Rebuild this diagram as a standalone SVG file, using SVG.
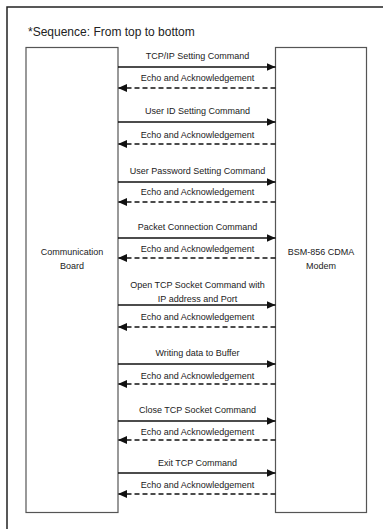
<svg xmlns="http://www.w3.org/2000/svg" width="383" height="529" viewBox="0 0 383 529">
<style>
.frame{fill:none;stroke:#222;stroke-width:1.5}
.box{fill:#fff;stroke:#555;stroke-width:1.2}
.t{font-family:"Liberation Sans",Arial,sans-serif;font-size:9px;fill:#222;text-anchor:middle}
.title{font-family:"Liberation Sans",Arial,sans-serif;font-size:12px;fill:#222}
.req{stroke:#111;stroke-width:1.3;fill:none;marker-end:url(#ah)}
.ack{stroke:#111;stroke-width:1.3;fill:none;stroke-dasharray:5 3;marker-end:url(#ah)}
</style>
<defs>
<marker id="ah" markerUnits="userSpaceOnUse" markerWidth="9" markerHeight="8" refX="9" refY="4" orient="auto">
<path d="M0,0 L9,4 L0,8 z" fill="#111"/>
</marker>
</defs>
<rect width="383" height="529" fill="#fff"/>
<rect class="frame" x="7" y="7" width="420" height="560"/>
<text class="title" x="28" y="36">*Sequence: From top to bottom</text>
<g id="communication-board">
<rect class="box" x="26" y="47.5" width="92" height="465"/>
<text class="t" x="72" y="255">Communication</text>
<text class="t" x="72" y="269">Board</text>
</g>
<g id="modem">
<rect class="box" x="275.5" y="47.5" width="91" height="465"/>
<text class="t" x="321" y="255">BSM-856 CDMA</text>
<text class="t" x="321" y="269">Modem</text>
</g>
<g id="connectors">
<line class="req" x1="118" y1="67" x2="275.5" y2="67"/>
<text class="t" x="197.5" y="59">TCP/IP Setting Command</text>
<line class="ack" x1="275.5" y1="88" x2="118" y2="88"/>
<text class="t" x="197.5" y="81">Echo and Acknowledgement</text>

<line class="req" x1="118" y1="122" x2="275.5" y2="122"/>
<text class="t" x="197.5" y="114">User ID Setting Command</text>
<line class="ack" x1="275.5" y1="144" x2="118" y2="144"/>
<text class="t" x="197.5" y="138">Echo and Acknowledgement</text>

<line class="req" x1="118" y1="182" x2="275.5" y2="182"/>
<text class="t" x="197.5" y="174">User Password Setting Command</text>
<line class="ack" x1="275.5" y1="202" x2="118" y2="202"/>
<text class="t" x="197.5" y="195">Echo and Acknowledgement</text>

<line class="req" x1="118" y1="238" x2="275.5" y2="238"/>
<text class="t" x="197.5" y="230">Packet Connection Command</text>
<line class="ack" x1="275.5" y1="258" x2="118" y2="258"/>
<text class="t" x="197.5" y="252">Echo and Acknowledgement</text>

<line class="req" x1="118" y1="305" x2="275.5" y2="305"/>
<text class="t" x="197.5" y="288">Open TCP Socket Command with</text>
<text class="t" x="197.5" y="302">IP address and Port</text>
<line class="ack" x1="275.5" y1="327" x2="118" y2="327"/>
<text class="t" x="197.5" y="320">Echo and Acknowledgement</text>

<line class="req" x1="118" y1="364" x2="275.5" y2="364"/>
<text class="t" x="197.5" y="356">Writing data to Buffer</text>
<line class="ack" x1="275.5" y1="384" x2="118" y2="384"/>
<text class="t" x="197.5" y="379">Echo and Acknowledgement</text>

<line class="req" x1="118" y1="421" x2="275.5" y2="421"/>
<text class="t" x="197.5" y="413">Close TCP Socket Command</text>
<line class="ack" x1="275.5" y1="440" x2="118" y2="440"/>
<text class="t" x="197.5" y="435">Echo and Acknowledgement</text>

<line class="req" x1="118" y1="473" x2="275.5" y2="473"/>
<text class="t" x="197.5" y="466">Exit TCP Command</text>
<line class="ack" x1="275.5" y1="494" x2="118" y2="494"/>
<text class="t" x="197.5" y="488">Echo and Acknowledgement</text>
</g>
</svg>
